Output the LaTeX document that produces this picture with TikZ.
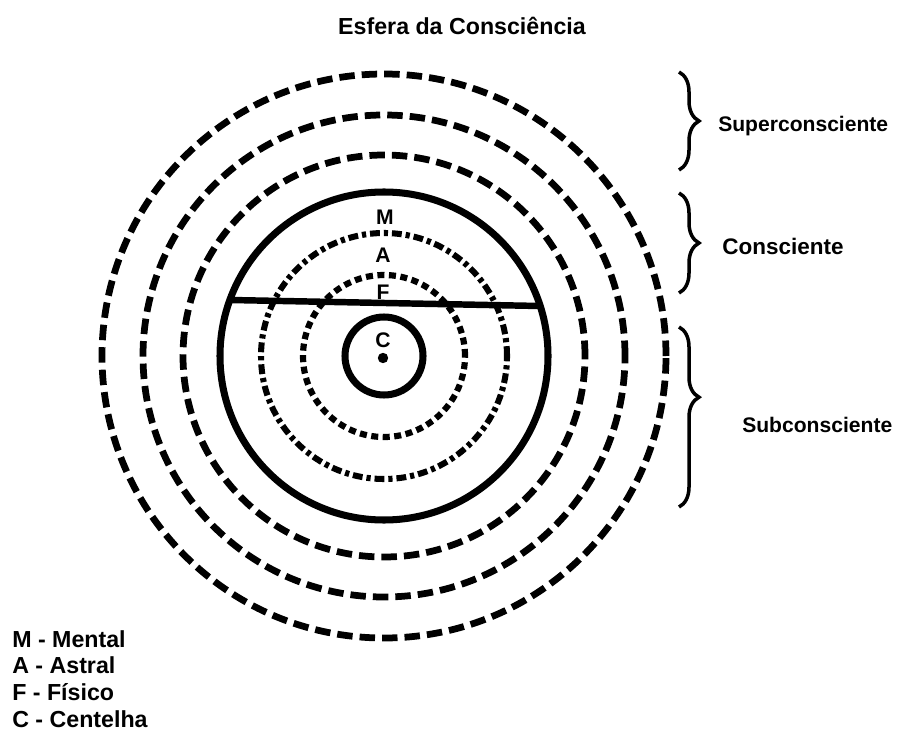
\documentclass[tikz,border=0pt]{standalone}
\usepackage{fontspec}
\setmainfont{Liberation Sans}
\usetikzlibrary{
  positioning,
  calc,
  decorations.pathreplacing
}
\tikzset{
  ringsolid/.style={line width=5pt},
  ringdash/.style={line width=4.8pt, dash pattern=on 11pt off 5pt},
  ringdashdot/.style={line width=4.3pt,
    dash pattern=on 7pt off 2.8pt on 3pt off 2.8pt},
  ringdot/.style={line width=4.4pt, dash pattern=on 5pt off 3.2pt},
  layerlbl/.style={font=\fontsize{15}{17}\selectfont\bfseries,
    inner sep=0pt, anchor=base},
  zonelbl/.style={font=\fontsize{15}{18}\selectfont\bfseries,
    inner sep=0pt, anchor=base west},
  keylbl/.style={font=\fontsize{16.5}{19}\selectfont\bfseries,
    inner sep=0pt, anchor=base west},
  zonebrace/.style={decorate, decoration={brace, amplitude=0.5cm},
    line width=2.5pt},
}

\begin{document}
\begin{tikzpicture}
  \useasboundingbox (0,0) rectangle (22.55,18.35);

  % Centre of the sphere
  \coordinate (O) at (9.6, 9.45);

  % Outer rings
  \draw[ringdash] (O) circle (7.05);
  \draw[ringdash] (O) circle (6.025);
  \draw[ringdash] (O) circle (5.025);

  % Inner rings
  \draw[ringsolid] (O) circle (4.1);
  \draw[ringdashdot] (O) circle (3.075);
  \draw[ringdot] (O) circle (2.025);
  \draw[ringsolid] (O) circle (0.975);

  % Layer letters
  \node[layerlbl] (lblM) at (9.625, 12.725) {M};
  \node[layerlbl] (lblA) at (9.575, 11.775) {A};
  \node[layerlbl] (lblF) at (9.575, 10.85) {F};
  \node[layerlbl] (lblC) at (9.575, 9.65) {C};

  % Chord of the solid ring
  \coordinate (chordL) at ($(O)+(160.03:4.1)$);
  \coordinate (chordR) at ($(O)+(17.75:4.1)$);
  \draw[line width=4.6pt] (chordL) -- (chordR);

  % Spark
  \fill (9.575, 9.4) circle (0.13);

  % Title
  \node[font=\fontsize{16.5}{19}\selectfont\bfseries, inner sep=0pt,
        anchor=base] (title) at (11.55, 17.475) {Esfera da Consciência};

  % Braces
  \coordinate (supT) at (16.975, 16.55);
  \coordinate (supB) at (16.975, 14.1);
  \coordinate (conT) at (16.975, 13.525);
  \coordinate (conB) at (16.975, 11.025);
  \coordinate (subT) at (16.975, 10.175);
  \coordinate (subB) at (16.975, 5.675);
  \draw[zonebrace] (supT) -- (supB);
  \draw[zonebrace] (conT) -- (conB);
  \draw[zonebrace, decoration={aspect=0.39}] (subT) -- (subB);

  % Zone labels
  \node[zonelbl] (super) at (17.95, 15.05) {Superconsciente};
  \node[zonelbl, font=\fontsize{16}{19}\selectfont\bfseries]
    (consc) at (18.05, 11.975) {Consciente};
  \node[zonelbl] (subc) at (18.55, 7.55) {Subconsciente};

  % Key
  \foreach \nm/\yy/\txt in {keyM/2.175/M - Mental, keyA/1.51/A - Astral,
                            keyF/0.843/F - Físico, keyC/0.175/C - Centelha}
    \node[keylbl] (\nm) at (0.3, \yy) {\txt};
\end{tikzpicture}
\end{document}
